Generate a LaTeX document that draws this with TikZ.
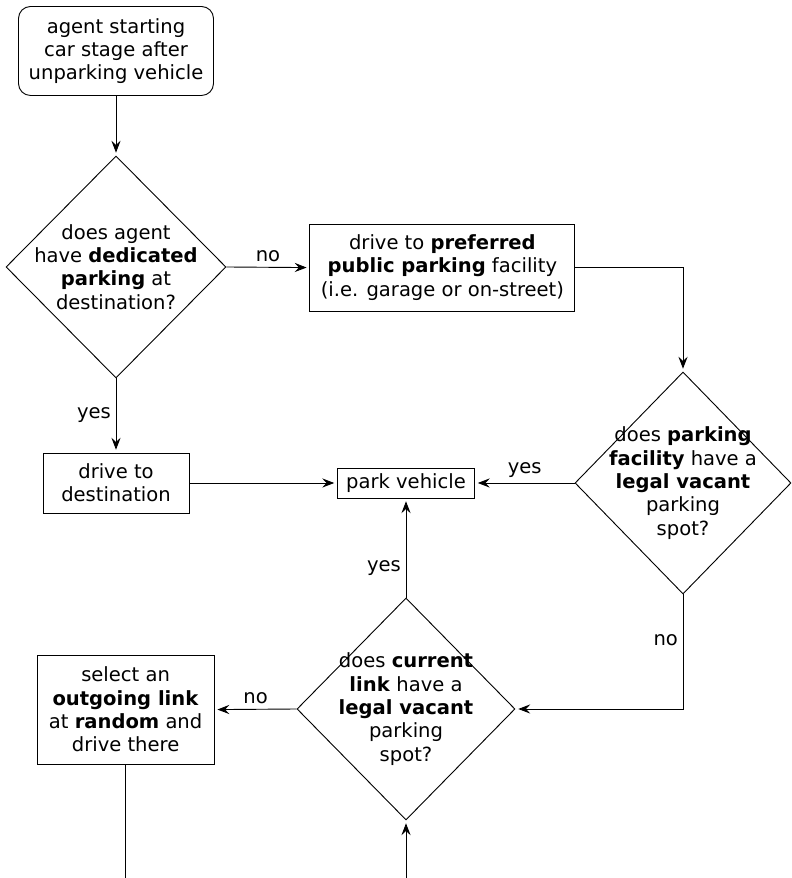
\documentclass[tikz,border=0pt]{standalone}
\usepackage{fontspec}
\setmainfont{DejaVu Sans}
\usetikzlibrary{shapes.geometric, arrows.meta}

\tikzset{
  box/.style={draw, align=center, inner sep=0pt},
  decision/.style={draw, diamond, inner sep=0pt},
  arr/.style={-{Stealth[length=8.5pt, width=6.5pt, inset=3pt]}, shorten >=2pt},
}

\begin{document}
\begin{tikzpicture}[scale=1.0, line width=0.65pt,
    font=\fontsize{13.9}{16.6}\selectfont]
  \useasboundingbox (0,0) rectangle (19.775,21.95);
  % Start
  \node[box, rounded corners=0.3cm, minimum width=4.875cm, minimum height=2.225cm]
    (start) at (2.9,20.675) {agent starting\\car stage after\\unparking vehicle};
  % Question: dedicated parking?
  \node[decision, minimum width=5.5cm, minimum height=5.55cm,
    label={[align=center]center:{does agent\\have \textbf{dedicated}\\\textbf{parking} at\\destination?}}]
    (dedicated) at (2.9,15.275) {};
  \node[box, minimum width=6.625cm, minimum height=2.175cm] (public) at (11.06,15.26)
    {drive to \textbf{preferred}\\\textbf{public parking} facility\\(i.e. garage or on-street)};
  \node[box, minimum width=3.65cm, minimum height=1.5cm] (dest) at (2.9,9.875)
    {drive to\\destination};
  \node[box, minimum width=3.425cm, minimum height=0.75cm] (park) at (10.15,9.875)
    {park vehicle};
  % Question: spot in facility?
  \node[decision, minimum width=5.4cm, minimum height=5.55cm,
    label={[align=center]center:{does \textbf{parking}\\\textbf{facility} have a\\\textbf{legal vacant}\\parking\\spot?}}]
    (facility) at (17.075,9.875) {};
  % Question: spot on link?
  \node[decision, minimum width=5.45cm, minimum height=5.55cm,
    label={[align=center]center:{does \textbf{current}\\\textbf{link} have a\\\textbf{legal vacant}\\parking\\spot?}}]
    (link) at (10.15,4.225) {};
  \node[box, minimum width=4.425cm, minimum height=2.725cm] (random) at (3.14,4.21)
    {select an\\\textbf{outgoing link}\\at \textbf{random} and\\drive there};
  \coordinate (outL) at (3.14,0);
  \coordinate (inL) at (10.15,0);

  % Connectors
  \draw[arr] (start) -- (dedicated);
  \draw[arr] (dedicated.east) -- node[above] {no} (public.west);
  \draw[arr] (dedicated.south) -- node[left] {yes} (dest.north);
  \draw[arr] (dest.east) -- (park.west);
  \draw[arr] (public.east) -| (facility.north);
  \draw[arr] (facility.west) -- node[above] {yes} (park.east);
  \draw[arr] (facility.south) |- node[pos=0.2, left] {no} (link.east);
  \draw[arr] (link.north) -- node[pos=0.3, left] {yes} (park.south);
  \draw[arr] (link.west) -- node[above] {no} (random.east);
  \draw (random.south) -- (outL);
  \draw[arr] (inL) -- (link.south);
\end{tikzpicture}
\end{document}
